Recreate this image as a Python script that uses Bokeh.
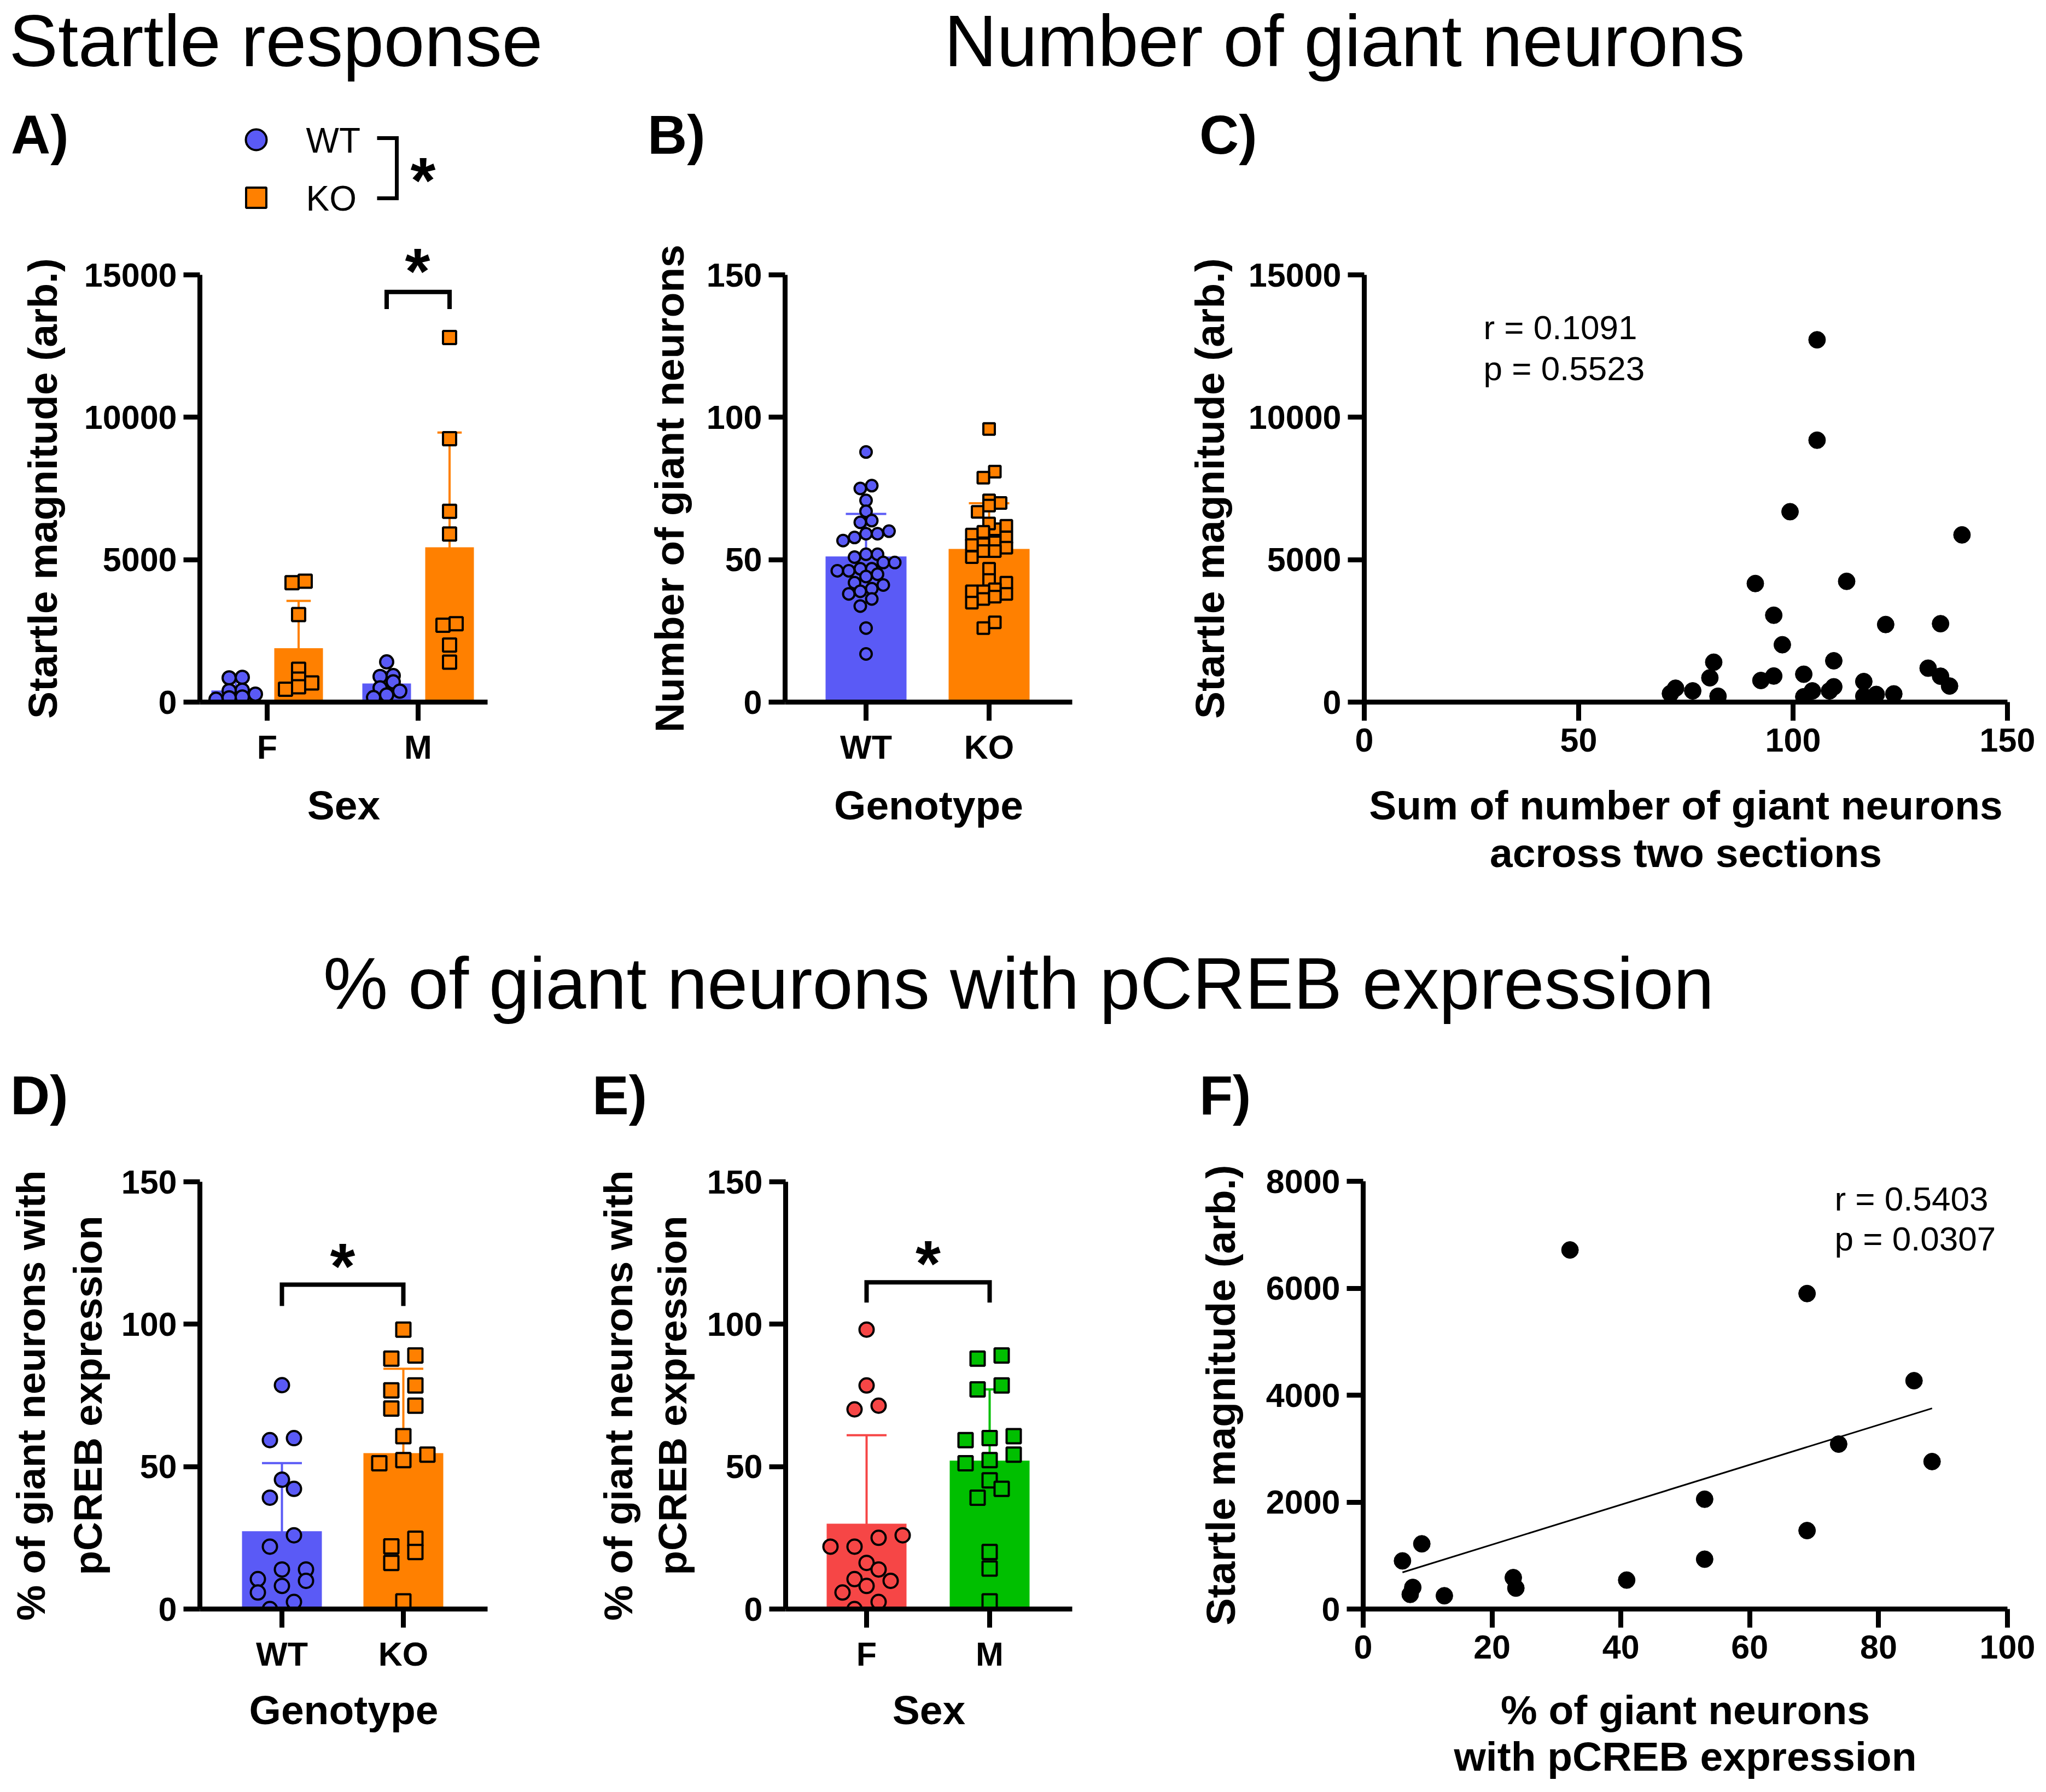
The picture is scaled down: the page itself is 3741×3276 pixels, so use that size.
import numpy as np
from bokeh.plotting import figure
from bokeh.models import Range1d, FixedTicker, Label, NumeralTickFormatter, GridBox, Div
from bokeh.layouts import row
from bokeh.embed import file_html
from bokeh.resources import INLINE

FONT = "Liberation Sans"
BLUE, ORANGE, RED, GREEN = "#5A5AF6", "#FF8000", "#F64646", "#00BF00"

# ---------------------------------------------------------------- data
title_top_left = "Startle response"
title_top_right = "Number of giant neurons"
title_middle = "% of giant neurons with pCREB expression"
panel_letters = ["A)", "B)", "C)", "D)", "E)", "F)"]

sex_categories = ["F", "M"]
genotype_categories = ["WT", "KO"]

startle_wt_f = [870, 850, 420, 400, 280, 180, 150, 100]
startle_ko_f = [4245, 4190, 3073, 1152, 807, 672, 538, 451]
startle_wt_m = [1411, 931, 900, 710, 500, 384, 250, 157]
startle_ko_m = [12800, 9250, 6700, 5900, 2750, 2700, 2000, 1400]
startle_ticks = [0, 5000, 10000, 15000]

neurons_wt = [87.8, 76.0, 75.0, 70.8, 67.0, 63.7, 63.1, 57.8, 59.1, 60.0, 59.1, 56.7,
              51.9, 51.9, 50.9, 49.0, 49.0, 46.1, 46.8, 46.8, 46.1, 44.1, 44.9, 41.1,
              41.9, 39.8, 38.0, 38.9, 36.2, 33.7, 26.0, 16.9]
neurons_ko = [95.9, 80.9, 78.8, 70.8, 69.0, 69.9, 66.8, 60.7, 62.7, 61.9, 58.8, 59.8,
              56.1, 57.8, 55.4, 53.0, 54.2, 55.1, 53.0, 50.9, 46.8, 41.9, 42.9, 38.0,
              38.9, 39.6, 38.9, 36.2, 37.0, 34.9, 28.0, 26.0]
count_ticks = [0, 50, 100, 150]

c_sum_neurons = [105.6, 105.6, 99.3, 139.4, 91.2, 112.5, 95.5, 97.5, 121.6, 134.4,
                 81.5, 80.6, 72.6, 71.4, 76.6, 82.5, 92.5, 95.5, 102.5, 109.5, 109.5,
                 102.5, 104.5, 108.5, 116.5, 116.5, 119.4, 123.5, 131.5, 134.4, 136.5]
c_startle = [12720, 9196, 6685, 5870, 4163, 4240, 3050, 2014, 2724, 2752,
             1400, 852, 487, 299, 393, 205, 758, 915, 978, 1450, 537,
             186, 393, 393, 721, 205, 269, 288, 1191, 909, 564]
c_x_ticks = [0, 50, 100, 150]
c_stats = ["r = 0.1091", "p = 0.5523"]

pcreb_wt = [78.6, 60.0, 59.3, 45.4, 42.2, 39.1, 25.9, 21.9, 13.9, 13.9, 9.9, 10.5, 5.8, 8.1, 2.5, 0.0]
pcreb_ko = [98.1, 87.9, 89.0, 76.8, 78.5, 70.4, 71.4, 60.7, 52.3, 51.2, 54.2, 22.0, 24.7, 20.0, 16.2, 2.7]
pcreb_f = [98.1, 78.5, 71.4, 70.1, 25.9, 21.9, 21.9, 25.0, 16.2, 13.9, 9.9, 10.5, 5.8, 8.1, 2.5, 0.0]
pcreb_m = [87.9, 89.0, 77.1, 78.5, 59.3, 60.0, 60.7, 54.2, 51.2, 52.3, 45.2, 39.1, 42.2, 20.0, 14.2, 2.7]
pct_ticks = [0, 50, 100, 150]

f_pcreb = [32.1, 68.9, 85.5, 73.8, 88.3, 53.0, 68.9, 53.0, 9.1, 6.1, 7.7, 7.3, 12.6, 23.3, 23.7, 40.9]
f_startle = [6715, 5900, 4270, 3084, 2758, 2054, 1467, 932, 1219, 900, 404, 274, 248, 587, 391, 541]
f_x_ticks = [0, 20, 40, 60, 80, 100]
f_y_ticks = [0, 2000, 4000, 6000, 8000]
f_stats = ["r = 0.5403", "p = 0.0307"]

# bold glyph advance widths (per 1000 em), used to place rotated axis titles
BOLD_W = {" ": 278, "%": 889, "(": 333, ")": 333, ".": 278, "B": 722, "C": 722, "E": 667,
          "N": 722, "R": 722, "S": 667, "a": 556, "b": 611, "d": 611, "e": 556, "f": 333,
          "g": 611, "h": 611, "i": 278, "l": 278, "m": 889, "n": 611, "o": 611, "p": 611,
          "r": 389, "s": 556, "t": 333, "u": 611, "w": 778, "x": 556}

# ---------------------------------------------------------------- helpers
class Coords:
    def __init__(self, l, t, r, b, xr, yr):
        self.l, self.t, self.r, self.b, self.xr, self.yr = l, t, r, b, xr, yr

    def X(self, rx):
        return self.xr[0] + (rx - self.l) * (self.xr[1] - self.xr[0]) / (self.r - self.l)

    def Y(self, ry):
        return self.yr[0] + (self.b - ry) * (self.yr[1] - self.yr[0]) / (self.b - self.t)


def strip(l, t, r, b, transparent=False):
    w, h = r - l, b - t
    p = figure(width=w, height=h, x_range=Range1d(0, w), y_range=Range1d(0, h),
               x_axis_type=None, y_axis_type=None, output_backend="svg",
               toolbar_location=None, min_border=0, title=None)
    p.outline_line_color = None
    if transparent:
        p.background_fill_color = None
        p.border_fill_color = None
    else:
        p.background_fill_color = "white"
    return p, Coords(l, t, r, b, (0, w), (0, h))


def panel(fig_l, fig_t, fig_r, fig_b, l, t, r, b, xr, yr):
    p = figure(title=None, frame_width=r - l, frame_height=b - t,
               min_border_left=l - fig_l, min_border_right=fig_r - r,
               min_border_top=t - fig_t, min_border_bottom=fig_b - b,
               x_range=Range1d(*xr), y_range=Range1d(*yr),
               output_backend="svg", toolbar_location=None)
    p.outline_line_color = None
    p.grid.visible = False
    p.background_fill_color = "white"
    p.border_fill_color = "white"
    return p, Coords(l, t, r, b, xr, yr)


def cat_range(l, r, c1, c2):
    ppu = c2 - c1
    start = 1 - (c1 - l) / ppu
    return (start, start + (r - l) / ppu), ppu


def style_axes(p, xticks, yticks, ybounds, xoverrides=None):
    p.xaxis.ticker = FixedTicker(ticks=xticks)
    p.yaxis.ticker = FixedTicker(ticks=yticks)
    p.yaxis.bounds = ybounds
    p.yaxis.formatter = NumeralTickFormatter(format="0")
    if xoverrides:
        p.xaxis.major_label_overrides = xoverrides
    for ax in p.axis:
        ax.axis_line_width = 9
        ax.axis_line_color = "black"
        ax.major_tick_line_width = 9
        ax.major_tick_line_color = "black"
        ax.major_tick_in = 0
        ax.minor_tick_line_color = None
        ax.major_label_text_font = FONT
        ax.major_label_text_font_size = "61px"
        ax.major_label_text_font_style = "bold"
        ax.major_label_text_color = "black"
    p.xaxis.major_tick_out = 34
    p.xaxis.major_label_standoff = 14
    p.yaxis.major_tick_out = 30
    p.yaxis.major_label_standoff = 12


def text(p, C, rx, ry_base, s, size, bold=False, align="left"):
    p.add_layout(Label(x=C.X(rx), y=C.Y(ry_base - 0.35 * size), text=s, text_font=FONT,
                       text_font_size=f"{size}px", text_font_style="bold" if bold else "normal",
                       text_align=align, text_baseline="middle", text_color="black"))


def vtext(p, C, rx_base, ry_center, s, size):
    length = sum(BOLD_W.get(ch, 600) for ch in s) / 1000 * size
    p.add_layout(Label(x=C.X(rx_base - 0.35 * size), y=C.Y(ry_center + length / 2), text=s,
                       text_font=FONT, text_font_size=f"{size}px", text_font_style="bold",
                       angle=np.pi / 2, text_align="left", text_baseline="middle",
                       text_color="black"))


def star(p, C, cx, cy, size=118):
    p.add_layout(Label(x=C.X(cx), y=C.Y(cy + 0.146 * size), text="*", text_font=FONT,
                       text_font_size=f"{size}px", text_font_style="bold",
                       text_align="center", text_baseline="middle", text_color="black"))


def swarm(vals, ppu_y, row_px, step_px, ppu_x):
    v = np.asarray(vals, float)
    order = np.argsort(v, kind="stable")
    offs = np.zeros(len(v))
    rows, cur = [], [order[0]]
    for i in order[1:]:
        if (v[i] - v[cur[0]]) * ppu_y <= row_px:
            cur.append(i)
        else:
            rows.append(cur)
            cur = [i]
    rows.append(cur)
    for rr in rows:
        n = len(rr)
        for k, i in enumerate(rr):
            offs[i] = (k - (n - 1) / 2) * step_px
    return offs / ppu_x


def bar_group(p, xc, vals, color, width, marker, msize, ppu_y, ppu_x, row_px, step_px):
    v = np.asarray(vals, float)
    m, s = v.mean(), v.std(ddof=1)
    p.vbar(x=[xc], top=[m], bottom=0, width=width, fill_color=color, line_color=None)
    cap = width / 4
    p.segment(x0=[xc, xc - cap, xc - cap], y0=[m - s, m + s, m - s],
              x1=[xc, xc + cap, xc + cap], y1=[m + s, m + s, m - s],
              line_color=color, line_width=4)
    xs = xc + swarm(v, ppu_y, row_px, step_px, ppu_x)
    return p.scatter(xs, v, marker=marker, size=msize, fill_color=color,
                     line_color="black", line_width=4)


def bracket(p, x1, x2, ytop, yleg):
    p.line([x1, x1, x2, x2], [yleg, ytop, ytop, yleg], line_width=8, line_color="black",
           line_join="miter")


def letters_div(items, cell_top, w, h, size=100):
    # items: (letter, left_ref, baseline_ref); positions relative to the grid cell
    parts = []
    for s, lx, base in items:
        top = (base - cell_top) - (0.905 * size + (size - 1.117 * size) / 2)
        parts.append(f'<div style="position:absolute;left:{lx - L}px;top:{top:.1f}px;'
                     f"font-family:'{FONT}';font-weight:bold;font-size:{size}px;"
                     f'line-height:{size}px;white-space:nowrap;color:black;">{s}</div>')
    html = f'<div style="position:relative;width:{w}px;height:{h}px;">' + "".join(parts) + "</div>"
    try:
        return Div(text=html, width=w, height=h, margin=0, disable_math=True)
    except Exception:
        return Div(text=html, width=w, height=h, margin=0)

# ---------------------------------------------------------------- layout (reference pixels)
L, R = 8, 3733
T1, M1, B1, T2, M2, B2, END = 8, 430, 1420, 1728, 2120, 3080, 3268
FB1, FB2 = 1291, 2949
XT1, XT2 = 1506, 3160

# ---------------- top strip, row 1 (titles, legend key)
top1, CT1 = strip(L, T1, R, M1)
top1.scatter([CT1.X(476)], [CT1.Y(263)], marker="circle", size=38, fill_color=BLUE,
             line_color="black", line_width=4)
top1.scatter([CT1.X(476)], [CT1.Y(369)], marker="square", size=37, fill_color=ORANGE,
             line_color="black", line_width=4)
top1.line([CT1.X(697), CT1.X(733), CT1.X(733), CT1.X(697)],
          [CT1.Y(260), CT1.Y(260), CT1.Y(370), CT1.Y(370)],
          line_width=7, line_color="black", line_join="miter")
text(top1, CT1, 24, 129, title_top_left, 134)
text(top1, CT1, 2466, 129, title_top_right, 133, align="center")
text(top1, CT1, 567, 287, genotype_categories[0], 64)
text(top1, CT1, 567, 393, genotype_categories[1], 64)
star(top1, CT1, 781, 320)

# ---------------- row 1 panels
sA, CsA = strip(L, M1, 150, B1)
xrA, ppuA = cat_range(373, 899, 496, 772)
yrA = (0, (FB1 - M1) / 781 * 15000)
pA, CA = panel(150, M1, 1170, B1, 373, M1, 899, FB1, xrA, yrA)
style_axes(pA, [1, 2], startle_ticks, (0, 15000), {1: sex_categories[0], 2: sex_categories[1]})
ppuyA = 781 / 15000
offA, bwA = 57.5 / ppuA, 89 / ppuA
bar_group(pA, 1 - offA, startle_wt_f, BLUE, bwA, "circle", 24, ppuyA, ppuA, 14, 24)
bar_group(pA, 1 + offA, startle_ko_f, ORANGE, bwA, "square", 24, ppuyA, ppuA, 14, 24)
bar_group(pA, 2 - offA, startle_wt_m, BLUE, bwA, "circle", 24, ppuyA, ppuA, 14, 24)
bar_group(pA, 2 + offA, startle_ko_m, ORANGE, bwA, "square", 24, ppuyA, ppuA, 14, 24)
bracket(pA, 2 - offA, 2 + offA, 14400, 13800)
star(pA, CA, 771, 486)

sB, CsB = strip(1170, M1, 1290, B1)
xrB, ppuB = cat_range(1443, 1968, 1591, 1816)
yrB = (0, (FB1 - M1) / 781 * 150)
pB, CB = panel(1290, M1, 2175, B1, 1443, M1, 1968, FB1, xrB, yrB)
style_axes(pB, [1, 2], count_ticks, (0, 150), {1: genotype_categories[0], 2: genotype_categories[1]})
ppuyB = 781 / 150
bwB = 148 / ppuB
bar_group(pB, 1, neurons_wt, BLUE, bwB, "circle", 21, ppuyB, ppuB, 18, 21)
bar_group(pB, 2, neurons_ko, ORANGE, bwB, "square", 21, ppuyB, ppuB, 18, 21)

sC, CsC = strip(2175, M1, 2280, B1)
pC, CC = panel(2280, M1, R, B1, 2502, M1, 3678, FB1, (0, 150), yrA)
style_axes(pC, c_x_ticks, startle_ticks, (0, 15000))
pC.scatter(c_sum_neurons, c_startle, marker="circle", size=31, fill_color="black", line_color="black")
text(pC, CC, 2720, 628, c_stats[0], 62)
text(pC, CC, 2720, 703, c_stats[1], 62)

# ---------------- bottom strip, row 1
bot1, CB1 = strip(L, B1, R, T2)
text(bot1, CB1, 636, XT1, "Sex", 75, bold=True, align="center")
text(bot1, CB1, 1705.5, XT1, "Genotype", 75, bold=True, align="center")
text(bot1, CB1, 3090, XT1, "Sum of number of giant neurons", 75, bold=True, align="center")
text(bot1, CB1, 3090, XT1 + 87, "across two sections", 75, bold=True, align="center")

# ---------------- top strip, row 2
top2, CT2 = strip(L, T2, R, M2)
text(top2, CT2, 1870, 1852, title_middle, 133, align="center")

# ---------------- row 2 panels
sD, CsD = strip(L, M2, 220, B2)
xrD, ppuD = cat_range(373, 899, 523, 745)
yrD = (0, (FB2 - M2) / 781 * 150)
pD, CD = panel(220, M2, 1080, B2, 373, M2, 899, FB2, xrD, yrD)
style_axes(pD, [1, 2], pct_ticks, (0, 150), {1: genotype_categories[0], 2: genotype_categories[1]})
ppuyD = 781 / 150
bwD = 146 / ppuD
bar_group(pD, 1, pcreb_wt, BLUE, bwD, "circle", 26, ppuyD, ppuD, 24, 44)
bar_group(pD, 2, pcreb_ko, ORANGE, bwD, "square", 26, ppuyD, ppuD, 24, 44)
bracket(pD, 1, 2, 113.9, 106.4)
star(pD, CD, 634, 2305)

sE, CsE = strip(1080, M2, 1290, B2)
xrE, ppuE = cat_range(1444, 1968, 1592, 1817)
pE, CE = panel(1290, M2, 2175, B2, 1444, M2, 1968, FB2, xrE, yrD)
style_axes(pE, [1, 2], pct_ticks, (0, 150), {1: sex_categories[0], 2: sex_categories[1]})
bwE = 146 / ppuE
bar_group(pE, 1, pcreb_f, RED, bwE, "circle", 26, ppuyD, ppuE, 24, 44)
bar_group(pE, 2, pcreb_m, GREEN, bwE, "square", 26, ppuyD, ppuE, 24, 44)
bracket(pE, 1, 2, 114.7, 107.6)
star(pE, CE, 1704.5, 2300)

sF, CsF = strip(2175, M2, 2313, B2)
yrF = (0, (FB2 - M2) / 782 * 8000)
pF, CF = panel(2313, M2, R, B2, 2500, M2, 3678, FB2, (0, 100), yrF)
style_axes(pF, f_x_ticks, f_y_ticks, (0, 8000))
fx = np.asarray(f_pcreb, float)
fy = np.asarray(f_startle, float)
slope, icpt = np.polyfit(fx, fy, 1)
lx = np.array([fx.min(), fx.max()])
pF.line(lx, slope * lx + icpt, line_width=3, line_color="black")
pF.scatter(fx, fy, marker="circle", size=31, fill_color="black", line_color="black")
text(pF, CF, 3362, 2221, f_stats[0], 62)
text(pF, CF, 3362, 2294, f_stats[1], 62)

# ---------------- bottom strip, row 2
bot2, CB2 = strip(L, B2, R, END)
text(bot2, CB2, 636, XT2, "Genotype", 75, bold=True, align="center")
text(bot2, CB2, 1706, XT2, "Sex", 75, bold=True, align="center")
text(bot2, CB2, 3089, XT2, "% of giant neurons", 75, bold=True, align="center")
text(bot2, CB2, 3089, XT2 + 85, "with pCREB expression", 75, bold=True, align="center")

# ---------------- transparent full-width overlays with the rotated axis titles
ovM1, COM1 = strip(L, M1, R, B1, transparent=True)
vtext(ovM1, COM1, 112, 900.5, "Startle magnitude (arb.)", 75)
vtext(ovM1, COM1, 1258, 900.5, "Number of giant neurons", 75)
vtext(ovM1, COM1, 2246, 900.5, "Startle magnitude (arb.)", 75)

ovM2, COM2 = strip(L, M2, R, B2, transparent=True)
vtext(ovM2, COM2, 90, 2558.5, "% of giant neurons with", 73)
vtext(ovM2, COM2, 194, 2558.5, "pCREB expression", 73)
vtext(ovM2, COM2, 1164, 2558.5, "% of giant neurons with", 73)
vtext(ovM2, COM2, 1263, 2558.5, "pCREB expression", 73)
vtext(ovM2, COM2, 2266, 2558, "Startle magnitude (arb.)", 75)

# ---------------- panel letters (HTML overlays, drawn last)
letT1 = letters_div(list(zip(panel_letters[:3], (28, 1192, 2201), (289, 289, 289))), T1, R - L, M1 - T1)
letT2 = letters_div(list(zip(panel_letters[3:], (27, 1091, 2201), (2045, 2045, 2045))), T2, R - L, M2 - T2)

mid1 = row(sA, pA, sB, pB, sC, pC)
mid2 = row(sD, pD, sE, pE, sF, pF)
layout = GridBox(children=[(top1, 0, 0), (mid1, 1, 0), (bot1, 2, 0), (top2, 3, 0),
                           (mid2, 4, 0), (bot2, 5, 0),
                           (ovM1, 1, 0), (ovM2, 4, 0), (letT1, 0, 0), (letT2, 3, 0)],
                 spacing=0)
open("out.html", "w").write(file_html(layout, INLINE))
